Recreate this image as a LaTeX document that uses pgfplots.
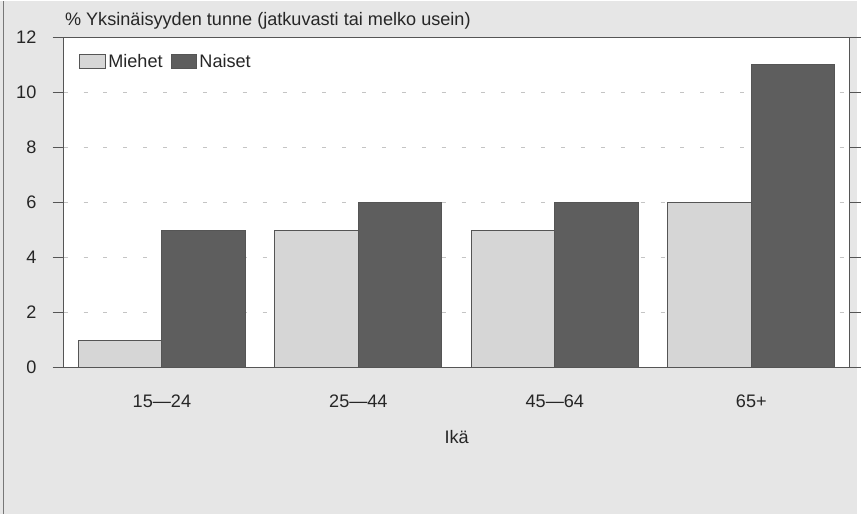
\documentclass[border=0pt]{standalone}
\usepackage{fontspec}
\setmainfont{Liberation Sans}
\usepackage{pgfplots}
\pgfplotsset{compat=1.18}
\definecolor{bggray}{HTML}{E6E6E6}
\definecolor{framegray}{HTML}{555555}
\definecolor{gridgray}{HTML}{C4C4C4}
\definecolor{lightbar}{HTML}{D6D6D6}
\definecolor{darkbar}{HTML}{5E5E5E}
\begin{document}
\begin{tikzpicture}
\fontsize{9.1}{11}\selectfont
\fill[bggray] (0pt,0pt) rectangle (430.5pt,258pt);
\draw[framegray!80,line width=0.6pt] (1.7pt,0pt) -- (1.7pt,258pt);
\begin{axis}[
  at={(32pt,73.5pt)}, anchor=south west,
  scale only axis, width=395pt, height=166pt,
  xmin=-0.5, xmax=3.5, ymin=0, ymax=12,
  ybar=0pt, bar width=42pt,
  axis background/.style={fill=white},
  axis line style={framegray, line width=0.7pt},
  xtick=data, xticklabels={15—24,25—44,45—64,65+},
  xtick style={draw=none},
  ytick={0,2,4,6,8,10,12},
  ytick style={framegray, line width=0.5pt},
  tick align=outside, major tick length=5.5pt,
  ymajorgrids, grid style={gridgray, dash pattern=on 2pt off 8pt, line width=0.5pt},
  /pgf/number format/assume math mode=true,
  tick label style={font=\fontsize{9.1}{11}\selectfont, text=black!85},
  yticklabel style={xshift=-5pt},
  xticklabel style={yshift=-5pt},
  xlabel={Ikä}, xlabel style={font=\fontsize{9.1}{11}\selectfont, text=black!85, yshift=-5pt},
  legend style={draw=none, fill=none, at={(rel axis cs:0.012,0.975)}, anchor=north west,
    font=\fontsize{9.1}{11}\selectfont, text=black!85,
    /tikz/every even column/.append style={column sep=3pt},
    /tikz/every node/.append style={inner xsep=1pt}},
  legend columns=2,
  legend image code/.code={\draw[#1] (0pt,-3.5pt) rectangle (13pt,3.5pt);},
  clip=false,
]
\addplot[fill=lightbar, draw=framegray, line width=0.5pt] coordinates {(0,1) (1,5) (2,5) (3,6)};
\addplot[fill=darkbar, draw=framegray, line width=0.5pt] coordinates {(0,5) (1,6) (2,6) (3,11)};
\legend{Miehet, Naiset}
\end{axis}
\node[anchor=west, text=black!85, font=\fontsize{9.1}{11}\selectfont, inner xsep=0pt] at (32.5pt,248pt) {\% Yksinäisyyden tunne (jatkuvasti tai melko usein)};
\end{tikzpicture}
\end{document}
